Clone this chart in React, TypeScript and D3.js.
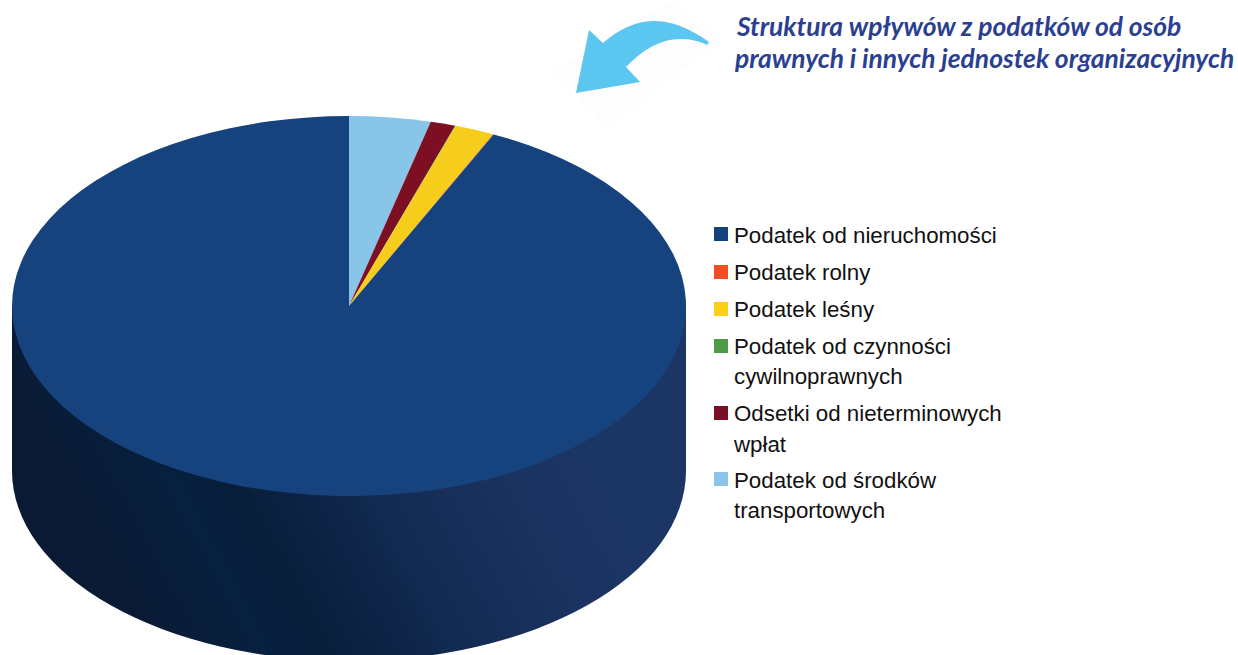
import React from "react";
import * as d3 from "d3";

// clockwise from 12 o'clock, the way the slices sit on the pie
const categories = [
  "Podatek od środków transportowych",
  "Odsetki od nieterminowych wpłat",
  "Podatek od czynności cywilnoprawnych",
  "Podatek leśny",
  "Podatek rolny",
  "Podatek od nieruchomości",
];
const shares = [3.9, 1.2, 0.03, 1.9, 0.03, 92.94];
const sliceColors = ["#89c4e9", "#7c1022", "#4e9a47", "#f7cd1b", "#f04e23", "#16437e"];

const legendLabels = [
  ["Podatek od nieruchomości"],
  ["Podatek rolny"],
  ["Podatek leśny"],
  ["Podatek od czynności", "cywilnoprawnych"],
  ["Odsetki od nieterminowych", "wpłat"],
  ["Podatek od środków", "transportowych"],
];
const legendColors = ["#15427d", "#f04e23", "#fdd017", "#4e9a47", "#7a1025", "#8cc5ec"];
const legendSquareY = [234, 272, 309, 346, 413, 479];
const legendBaselines = [[243], [280], [317], [354, 384], [421, 452], [488, 518]];

const titleLines = ["Struktura wpływów z podatków od osób", "prawnych i innych jednostek organizacyjnych"];

const CX = 349, CY = 306, RX = 337, RY = 190, DEPTH = 165;

const App = () => {
  const ref = React.useRef<SVGSVGElement>(null);

  React.useEffect(() => {
    const svg = d3.select(ref.current);
    svg.selectAll("*").remove();

    const defs = svg.append("defs");
    const grad = defs.append("linearGradient")
      .attr("id", "side")
      .attr("gradientUnits", "userSpaceOnUse")
      .attr("x1", 150).attr("y1", 640)
      .attr("x2", 560).attr("y2", 420);
    [[0, "#0a1a35"], [0.2, "#06203e"], [0.32, "#071e3b"], [0.58, "#132a52"], [0.85, "#1a3360"], [1, "#1b3565"]].forEach(([o, c]) => {
      grad.append("stop").attr("offset", o as number).attr("stop-color", c as string);
    });

    // faint backing of the pasted arrow picture
    svg.append("path").attr("d", "M553,70L673,0L720,40L607,128Z").attr("fill", "#fdfdfd");

    // side wall
    svg.append("path")
      .attr("d", `M${CX - RX},${CY}L${CX - RX},${CY + DEPTH}A${RX},${RY} 0 0 0 ${CX + RX},${CY + DEPTH}L${CX + RX},${CY}Z`)
      .attr("fill", "url(#side)");

    // top face, a unit pie squashed into the ellipse
    const pie = d3.pie<number>().sort(null).startAngle(0).endAngle(2 * Math.PI);
    const arc = d3.arc<d3.PieArcDatum<number>>().innerRadius(0).outerRadius(RX);
    svg.append("g")
      .attr("transform", `translate(${CX},${CY}) scale(1,${RY / RX})`)
      .selectAll("path")
      .data(pie(shares))
      .enter()
      .append("path")
      .attr("d", arc)
      .attr("fill", (d, i) => sliceColors[i])
      .append("title")
      .text((d, i) => categories[i]);

    // legend
    const legend = svg.append("g").attr("font-family", "'Liberation Sans'").attr("font-size", 22.3).attr("fill", "#111");
    legendLabels.forEach((lines, i) => {
      legend.append("rect")
        .attr("x", 714).attr("y", legendSquareY[i] - 7)
        .attr("width", 14).attr("height", 14)
        .attr("fill", legendColors[i]);
      lines.forEach((line, j) => {
        legend.append("text").attr("x", 734).attr("y", legendBaselines[i][j]).text(line);
      });
    });

    // title
    const title = svg.append("g")
      .attr("font-family", "Lato").attr("font-style", "italic").attr("font-weight", 700)
      .attr("font-size", 26.4).attr("fill", "#2b3f92");
    title.append("text").attr("x", 737).attr("y", 36).text(titleLines[0]);
    title.append("text").attr("x", 735).attr("y", 68).text(titleLines[1]);

    // arrow
    svg.append("path")
      .attr("d", "M576,93L589,30L603,43C620,28 637,21 655,21C675,21 695,32 709,42L707,45C697,40 689,39 680,39C660,39 642,50 626,67L640,82Z")
      .attr("fill", "#5bc6ef");
  }, []);

  return (
    <svg ref={ref} width={1238} height={655} style={{ position: "fixed", left: 0, top: 0, background: "#fff" }} />
  );
};

export default App;
